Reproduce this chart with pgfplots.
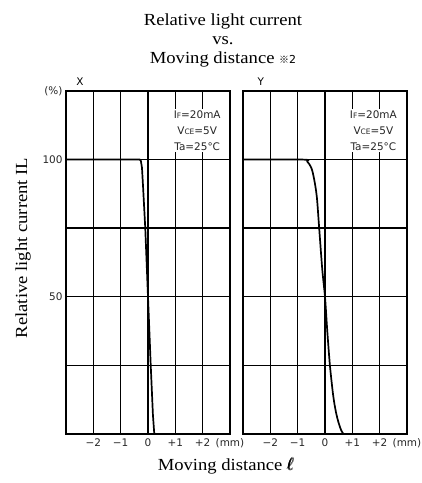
\documentclass[border=0pt]{standalone}
\usepackage{amsmath}
\usepackage{pgfplots}
\pgfplotsset{compat=1.18}
\usepackage{fontspec}
\setmainfont{Liberation Serif}
\newfontfamily\serifw{Liberation Serif}[FakeStretch=1.1]
\newfontfamily\sansf{DejaVu Sans}
\newfontfamily\cjk{Noto Sans CJK JP}
\pgfplotsset{panel/.style={
  scale only axis, width=164bp, height=343bp,
  xmin=-3, xmax=3, ymin=0, ymax=125,
  xtick={-3,-2,-1,0,1,2,3}, ytick={0,25,50,75,100,125},
  xticklabels={,−2,−1,0,+1,+2,(mm)},
  grid=major, grid style={black, line width=1.4bp},
  axis line style={black, line width=1.4bp},
  major tick length=0pt,
  tick label style={font=\sansf\fontsize{10.5}{12}\selectfont, text=black!85},
  xticklabel style={yshift=-1bp},
  anchor=south west,
  clip=false,
}}
\newcommand{\cond}{I\raisebox{-0.3bp}{\fontsize{7.5}{8}\selectfont F}=20mA\\V\raisebox{-0.3bp}{\fontsize{7.5}{8}\selectfont CE}=5V\\Ta=25°C}
\tikzset{condnode/.style={fill=white, inner sep=1.5bp, align=center, font=\sansf\fontsize{10.5}{16}\selectfont, text=black!85}}
\begin{document}
\begin{tikzpicture}
\path[use as bounding box] (-66bp,-49bp) rectangle (356bp,434bp);
\begin{axis}[panel, at={(0,0)}, yticklabels={,,50,,100,(\%)}]
\addplot[black, line width=1.7bp] coordinates {(-3,100) (-0.3,100) (-0.26,99.5) (-0.22,97) (-0.18,90) (-0.1,75) (0,50) (0.1,25) (0.18,7) (0.23,0)};
\node[condnode] at (axis cs:1.8,110.5) {\cond};
\node[font=\sansf\fontsize{10.5}{12}\selectfont] at (axis cs:-2.49,128.5) {X};
\end{axis}
\begin{axis}[panel, at={(177bp,0)}, yticklabels={}]
\addplot[black, line width=1.7bp, smooth, tension=0.5] coordinates {(-3,100) (-0.8,100) (-0.65,99.3) (-0.5,97) (-0.4,93) (-0.3,86.5) (-0.22,76) (-0.1,60) (0,50) (0.08,38) (0.18,25) (0.3,14) (0.4,8) (0.5,4) (0.6,1.2) (0.68,0)};
\node[condnode] at (axis cs:1.77,110.5) {\cond};
\node[font=\sansf\fontsize{10.5}{12}\selectfont] at (axis cs:-2.35,128.5) {Y};
\end{axis}
\node[anchor=base, font=\serifw\fontsize{17}{20}\selectfont] at (157bp,408bp) {Relative light current};
\node[anchor=base, font=\serifw\fontsize{17}{20}\selectfont] at (157bp,389bp) {vs.};
\node[anchor=base, font=\serifw\fontsize{17}{20}\selectfont] at (157bp,370bp) {Moving distance {\cjk\fontsize{10}{12}\selectfont ※}{\sansf\fontsize{11}{12}\selectfont 2}};
\node[anchor=base, font=\serifw\fontsize{17}{20}\selectfont] at (160bp,-36bp) {Moving distance $\pmb{\ell}$};
\node[rotate=90, font=\serifw\fontsize{17}{20}\selectfont] at (-43bp,186bp) {Relative light current IL};
\end{tikzpicture}
\end{document}
